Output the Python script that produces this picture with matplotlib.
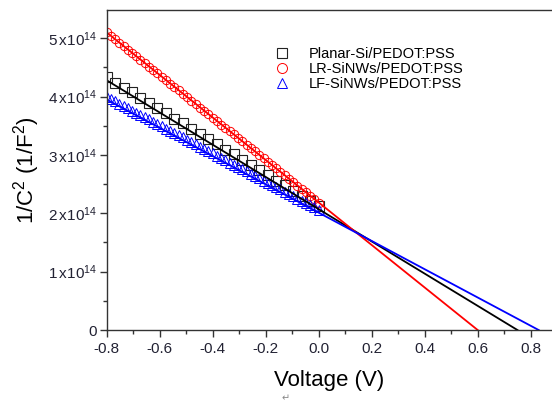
import numpy as np
import matplotlib
matplotlib.use("Agg")
import matplotlib.pyplot as plt
from matplotlib.ticker import MultipleLocator, FuncFormatter

plt.rcParams['font.family'] = ['Liberation Sans', 'DejaVu Sans']
plt.rcParams['mathtext.fontset'] = 'custom'
plt.rcParams['mathtext.rm'] = 'Liberation Sans'

# ----------- dados (1/C^2 em unidades de 1e14) -----------
v_planar = [-0.800, -0.768, -0.736, -0.704, -0.672, -0.640, -0.608, -0.576, -0.544,
            -0.512, -0.480, -0.448, -0.416, -0.384, -0.352, -0.320, -0.288, -0.256,
            -0.224, -0.192, -0.160, -0.128, -0.096, -0.064, -0.032, 0.000]
c_planar = [4.33, 4.24, 4.15, 4.07, 3.98, 3.89, 3.80, 3.71, 3.62,
            3.54, 3.45, 3.36, 3.27, 3.18, 3.09, 3.01, 2.92, 2.83,
            2.74, 2.65, 2.56, 2.48, 2.39, 2.30, 2.21, 2.12]

v_nw = [-0.800, -0.784, -0.768, -0.752, -0.736, -0.720, -0.704, -0.688, -0.672, -0.656,
        -0.640, -0.624, -0.608, -0.592, -0.576, -0.560, -0.544, -0.528, -0.512, -0.496,
        -0.480, -0.464, -0.448, -0.432, -0.416, -0.400, -0.384, -0.368, -0.352, -0.336,
        -0.320, -0.304, -0.288, -0.272, -0.256, -0.240, -0.224, -0.208, -0.192, -0.176,
        -0.160, -0.144, -0.128, -0.112, -0.096, -0.080, -0.064, -0.048, -0.032, -0.016,
        0.000]
c_lr = [5.10, 5.04, 4.98, 4.92, 4.86, 4.80, 4.75, 4.69, 4.63, 4.57,
        4.51, 4.46, 4.40, 4.34, 4.28, 4.22, 4.16, 4.11, 4.05, 3.99,
        3.93, 3.87, 3.81, 3.76, 3.70, 3.64, 3.58, 3.52, 3.46, 3.41,
        3.35, 3.29, 3.23, 3.17, 3.12, 3.06, 3.00, 2.94, 2.88, 2.82,
        2.77, 2.71, 2.65, 2.59, 2.53, 2.47, 2.42, 2.36, 2.30, 2.24,
        2.18]
c_lf = [4.00, 3.96, 3.92, 3.88, 3.84, 3.80, 3.76, 3.72, 3.69, 3.65,
        3.61, 3.57, 3.53, 3.49, 3.45, 3.41, 3.38, 3.34, 3.30, 3.26,
        3.22, 3.18, 3.14, 3.10, 3.07, 3.03, 2.99, 2.95, 2.91, 2.87,
        2.83, 2.80, 2.76, 2.72, 2.68, 2.64, 2.60, 2.56, 2.52, 2.49,
        2.45, 2.41, 2.37, 2.33, 2.29, 2.25, 2.21, 2.18, 2.14, 2.10,
        2.06]

# retas ajustadas (extremos)
fit_planar_v = [-0.80, 0.75]
fit_planar_c = [4.28, 0.0]
fit_lr_v = [-0.80, 0.60]
fit_lr_c = [5.10, 0.0]
fit_lf_v = [-0.80, 0.83]
fit_lf_c = [3.95, 0.0]

labels = ["Planar-Si/PEDOT:PSS", "LR-SiNWs/PEDOT:PSS", "LF-SiNWs/PEDOT:PSS"]
escala = 1e14


def main():
    fig = plt.figure(figsize=(5.52, 4.05), dpi=100)
    ax = fig.add_axes([0.193, 0.185, 0.807, 0.79])

    ax.plot(v_planar, np.array(c_planar) * escala, 's', mfc='none', mec='#222222',
            ms=6.5, mew=0.8, label=labels[0])
    ax.plot(v_nw, np.array(c_lr) * escala, 'o', mfc='none', mec='red',
            ms=6, mew=0.7, label=labels[1])
    ax.plot(v_nw, np.array(c_lf) * escala, '^', mfc='none', mec='blue',
            ms=6.5, mew=0.7, label=labels[2])

    ax.plot(fit_planar_v, np.array(fit_planar_c) * escala, '-', color='black', lw=1.3)
    ax.plot(fit_lr_v, np.array(fit_lr_c) * escala, '-', color='red', lw=1.3)
    ax.plot(fit_lf_v, np.array(fit_lf_c) * escala, '-', color='blue', lw=1.3)

    ax.set_xlim(-0.8, 0.88)
    ax.set_ylim(0, 5.48e14)

    ax.xaxis.set_major_locator(MultipleLocator(0.2))
    ax.xaxis.set_minor_locator(MultipleLocator(0.1))
    ax.yaxis.set_major_locator(MultipleLocator(1e14))
    ax.yaxis.set_minor_locator(MultipleLocator(0.5e14))

    def fmt_x(v, pos):
        return "%.1f" % v if abs(v) > 1e-9 else "0.0"

    def fmt_y(v, pos):
        n = int(round(v / escala))
        if n == 0:
            return "0"
        return r"$\mathregular{%d\,x10^{14}}$" % n

    ax.xaxis.set_major_formatter(FuncFormatter(fmt_x))
    ax.yaxis.set_major_formatter(FuncFormatter(fmt_y))

    ax.tick_params(which='major', direction='out', length=5, width=1, labelsize=11,
                   colors='#333333', labelcolor='#222233')
    ax.tick_params(which='minor', direction='out', length=3, width=1, colors='#333333')
    ax.tick_params(axis='y', pad=2)

    ax.spines['right'].set_visible(False)
    for s in ['left', 'bottom', 'top']:
        ax.spines[s].set_color('#333333')
        ax.spines[s].set_linewidth(1.0)

    ax.set_xlabel("Voltage (V)", fontsize=16, labelpad=10)
    ax.set_ylabel(r"1/C$^2$ (1/F$^2$)", fontsize=16, labelpad=4)

    ax.legend(loc='upper left', bbox_to_anchor=(0.349, 0.925), frameon=False,
              fontsize=10.5, handletextpad=1.3, labelspacing=0.05,
              handlelength=1.0, markerscale=1.2)

    fig.text(0.51, 0.008, "\u21b5", fontsize=7, color='#888888', family='DejaVu Sans')

    fig.savefig("out.png", dpi=100)


if __name__ == "__main__":
    main()
